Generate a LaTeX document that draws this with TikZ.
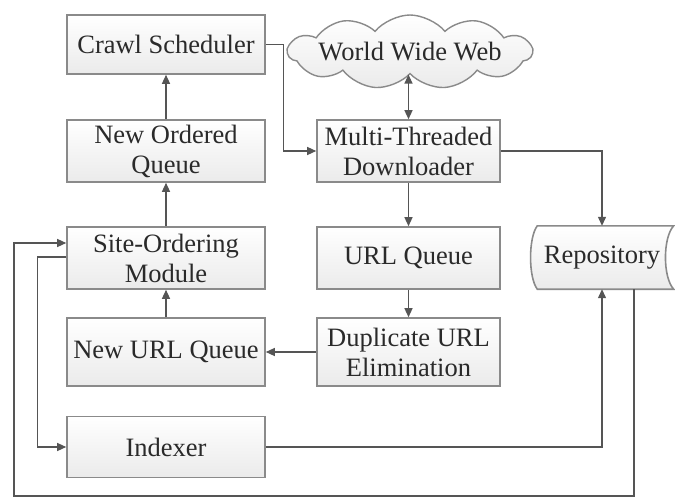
\documentclass[tikz,border=0pt]{standalone}
\usepackage{fontspec}
\setmainfont{Liberation Serif}
\usetikzlibrary{shapes.symbols,arrows.meta,calc}
\definecolor{linec}{HTML}{555555}
\definecolor{boxc}{HTML}{8A8A8A}
\definecolor{txtc}{HTML}{2A2A2A}
\tikzset{
  box/.style={draw=boxc, line width=1.6pt, top color=white, bottom color=gray!16,
    minimum width=198pt, align=center, inner sep=0pt, text=txtc,
    font=\fontsize{26.5}{30}\selectfont},
  arr/.style={draw=linec, line width=1.3pt, -{Triangle[length=9pt,width=8pt]}},
  dblarr/.style={draw=linec, line width=1.3pt, {Triangle[length=9pt,width=8pt]}-{Triangle[length=9pt,width=8pt]}},
  ln/.style={draw=linec, line width=1.3pt}
}
\begin{document}
\begin{tikzpicture}[x=1pt,y=-1pt]
\useasboundingbox (0,0) rectangle (675,498);
% left column
\node[box, minimum height=59pt] (cs) at (166,44.5) {Crawl Scheduler};
\node[box, minimum height=62pt] (noq) at (166,151) {New Ordered\\Queue};
\node[box, minimum height=62pt] (som) at (166,258) {Site-Ordering\\Module};
\node[box, minimum height=68pt] (nuq) at (166,352) {New URL Queue};
\node[box, minimum height=61pt] (idx) at (166,447) {Indexer};
% middle column
\node[box, minimum width=183pt, minimum height=62pt] (mtd) at (408.5,151) {Multi-Threaded\\Downloader};
\node[box, minimum width=183pt, minimum height=62pt] (uq) at (408.5,258) {URL Queue};
\node[box, minimum width=183pt, minimum height=68pt] (due) at (408.5,352) {Duplicate URL\\Elimination};
% cloud
\node[cloud, draw=boxc, line width=1.4pt, top color=white, bottom color=gray!16,
  cloud puffs=11, cloud puff arc=100, aspect=3.3, minimum width=244pt, minimum height=74pt,
  inner sep=0pt] (www) at (410,52) {};
\node[text=txtc, font=\fontsize{26.5}{30}\selectfont] at (www.center) {World Wide Web};
% repository (stored data)
\node[minimum width=143pt, minimum height=63pt, inner sep=0pt] (repo) at (602,257.5) {};
\path[draw=boxc, line width=1.6pt, top color=white, bottom color=gray!16]
  (repo.north west) ++(7,0) -- (repo.north east)
  .. controls ($(repo.east)+(-11,-20)$) and ($(repo.east)+(-11,20)$) .. (repo.south east)
  -- ([xshift=7pt]repo.south west)
  .. controls ($(repo.west)+(-2,20)$) and ($(repo.west)+(-2,-20)$) .. ([xshift=7pt]repo.north west) -- cycle;
\node[text=txtc, font=\fontsize{26.5}{30}\selectfont] at (repo.center) {Repository};
% connectors
\draw[arr] (noq) -- (cs);
\draw[arr] (som) -- (noq);
\draw[arr] (nuq) -- (som);
\draw[arr] (due) -- (nuq);
\draw[arr] (uq) -- (due);
\draw[arr] (mtd) -- (uq);
\draw[dblarr] (mtd.north |- www.south) -- (mtd.north);
\draw[arr] (cs.east) -- ++(18,0) |- (mtd.west);
\draw[arr] (mtd.east) -| (repo.north);
\draw[arr] (idx.east) -| (repo.south);
\coordinate (rb) at (634,496);
\draw[arr] (repo.south -| rb) -- (rb) -| (14,243) -- ([yshift=15pt]som.west);
\draw[arr] ([yshift=1pt]som.west) -- ++(-29,0) |- (idx.west);
\end{tikzpicture}
\end{document}
